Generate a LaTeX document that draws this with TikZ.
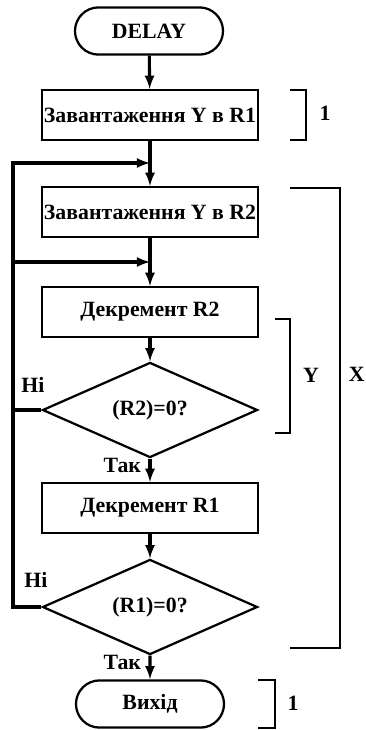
\documentclass[tikz,border=0pt]{standalone}
\usepackage{fontspec}
\setmainfont{Liberation Serif}
\usetikzlibrary{arrows,shapes.geometric,shapes.misc}

\tikzset{
  txt/.style={font=\fontsize{15.5}{17}\selectfont\bfseries},
  block/.style={txt, draw, line width=1.6pt, rectangle, minimum width=5.4cm, minimum height=1.25cm, inner sep=0pt},
  term/.style={txt, draw, line width=1.6pt, rounded rectangle, minimum width=3.7cm, minimum height=1.18cm, inner sep=0pt},
  test/.style={txt, draw, line width=1.6pt, diamond, minimum width=5.375cm, minimum height=2.02cm, inner sep=0pt},
  flow/.style={-latex, line width=2.2pt},
  brace/.style={line width=1.4pt}
}

\begin{document}
\begin{tikzpicture}[x=0.025cm, y=-0.025cm]
  \useasboundingbox (0,0) rectangle (366,730);
  % blocks
  \node[term] (delay) at (149,31) {DELAY};
  \node[block] (load1) at (150,115) {Завантаження Y в R1};
  \node[block] (load2) at (150,212) {Завантаження Y в R2};
  \node[block] (dec2) at (150,312) {Декремент R2};
  \node[test] (test2) at (150,410) {(R2)=0?};
  \node[block] (dec1) at (150,508) {Декремент R1};
  \node[test] (test1) at (150,607) {(R1)=0?};
  \node[term] (exit) at (150,704) {Вихід};
  % joins of the loops
  \coordinate (join1) at (150,163);
  \coordinate (join2) at (150,262);
  \coordinate (left) at (13,0);
  % flow
  \draw[flow] (delay) -- (load1);
  \draw[flow] (load1) -- (load2);
  \draw[flow] (load2) -- (dec2);
  \draw[flow] (dec2) -- (test2);
  \draw[flow] (test2) -- (dec1) node[txt, pos=0.3, left=2pt] {Так};
  \draw[flow] (dec1) -- (test1);
  \draw[flow] (test1) -- (exit) node[txt, pos=0.3, left=2pt] {Так};
  \draw[flow] (test2.west) -- (test2.west -| left) |- (join2);
  \draw[flow] (test1.west) -- (test1.west -| left) |- (join1);
  \node[txt] (no2) at (33,385) {Ні};
  \node[txt] (no1) at (36,580) {Ні};
  % brackets
  \draw[brace] (290,90) -- (306,90) -- (306,140) -- (290,140);
  \node[txt] (n1) at (325,113) {1};
  \draw[brace] (275,319) -- (290,319) -- (290,433) -- (275,433);
  \node[txt] (ny) at (311,375) {Y};
  \draw[brace] (290,188) -- (340,188) -- (340,648) -- (290,648);
  \node[txt, anchor=east, inner sep=0pt] (nx) at (365,374) {X};
  \draw[brace] (258,680) -- (275,680) -- (275,728) -- (258,728);
  \node[txt] (n2) at (293,703) {1};
\end{tikzpicture}
\end{document}
